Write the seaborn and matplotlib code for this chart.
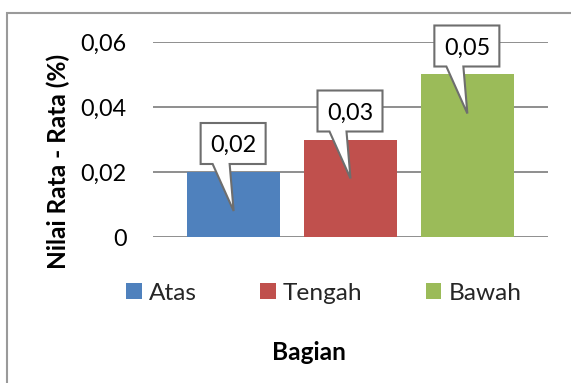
import matplotlib
matplotlib.use("Agg")
import matplotlib.pyplot as plt
from matplotlib.patches import Polygon, Rectangle, Patch
from matplotlib.transforms import IdentityTransform
import seaborn as sns
import pandas as pd

bagian = ["Atas", "Tengah", "Bawah"]
nilai = [0.02, 0.03, 0.05]
label_nilai = ["0,02", "0,03", "0,05"]
warna = ["#4f81bd", "#c0504d", "#9bbb59"]
yticks = [0, 0.02, 0.04, 0.06]
ytick_labels = ["0", "0,02", "0,04", "0,06"]

sns.set_theme(style="white")
plt.rcParams["font.family"] = ["Lato", "DejaVu Sans"]
fs = 16.8
fs_big = 17.6

df = pd.DataFrame({"Bagian": bagian, "Nilai": nilai})

fig = plt.figure(figsize=(5.71, 3.83), dpi=100)
W, H = 571, 383
ax = fig.add_axes([153 / W, 1 - 237 / H, 395 / W, 195 / H])

sns.barplot(data=df, x="Bagian", y="Nilai", hue="Bagian", palette=warna,
            width=0.8, saturation=1, legend=False, linewidth=0, ax=ax)

ax.set_xlim(-0.69, 2.69)
ax.set_ylim(0, 0.06)
ax.set_yticks(yticks)
ax.set_yticklabels(ytick_labels, fontsize=fs, color="black")
ax.set_xticks([])
ax.set_xlabel("")
ax.set_ylabel("")
ax.tick_params(axis="y", length=0, pad=19)
ax.set_axisbelow(True)
ax.yaxis.grid(True, color="#868686", lw=1.3)
ax.grid(axis="x", visible=False)
for s in ax.spines.values():
    s.set_visible(False)

# callouts (Excel style data labels)
for i, (v, t) in enumerate(zip(nilai, label_nilai)):
    cx, top = ax.transData.transform((i, v))
    x0, x1 = cx - 33, cx + 32
    yb, yt = top + 8, top + 49
    verts = [(x0, yb), (cx - 21, yb), (cx, top - 39), (cx - 4, yb),
             (x1, yb), (x1, yt), (x0, yt)]
    poly = Polygon(verts, closed=True, facecolor="white", edgecolor="#6e6e6e",
                   lw=1.5, transform=IdentityTransform(), clip_on=False, zorder=5)
    fig.add_artist(poly)
    fig.text(cx, (yb + yt) / 2, t, transform=IdentityTransform(), ha="center",
             va="center_baseline", fontsize=fs, color="black", zorder=6)

handles = [Patch(facecolor=c, edgecolor="none") for c in warna]
fig.legend(handles, bagian, loc="center", bbox_to_anchor=(324 / W, 1 - 293 / H),
           ncol=3, frameon=False, fontsize=fs_big, handlelength=0.62, handleheight=0.62,
           handletextpad=0.3, columnspacing=2.6, borderpad=0)

fig.text(309 / W, 1 - 353 / H, "Bagian", ha="center", va="center",
         fontsize=fs_big, fontweight="bold", color="black")
fig.text(58 / W, 1 - 161 / H, "Nilai Rata - Rata (%)", ha="center", va="center",
         rotation=90, fontsize=fs_big, fontweight="bold", color="black")

fig.add_artist(Rectangle((7 / W, -0.05), 1.1, 1.05 - 13 / H, transform=fig.transFigure,
                         facecolor="none", edgecolor="#9a9a9a", lw=1.5, clip_on=False))

fig.savefig("out.png", dpi=100)
